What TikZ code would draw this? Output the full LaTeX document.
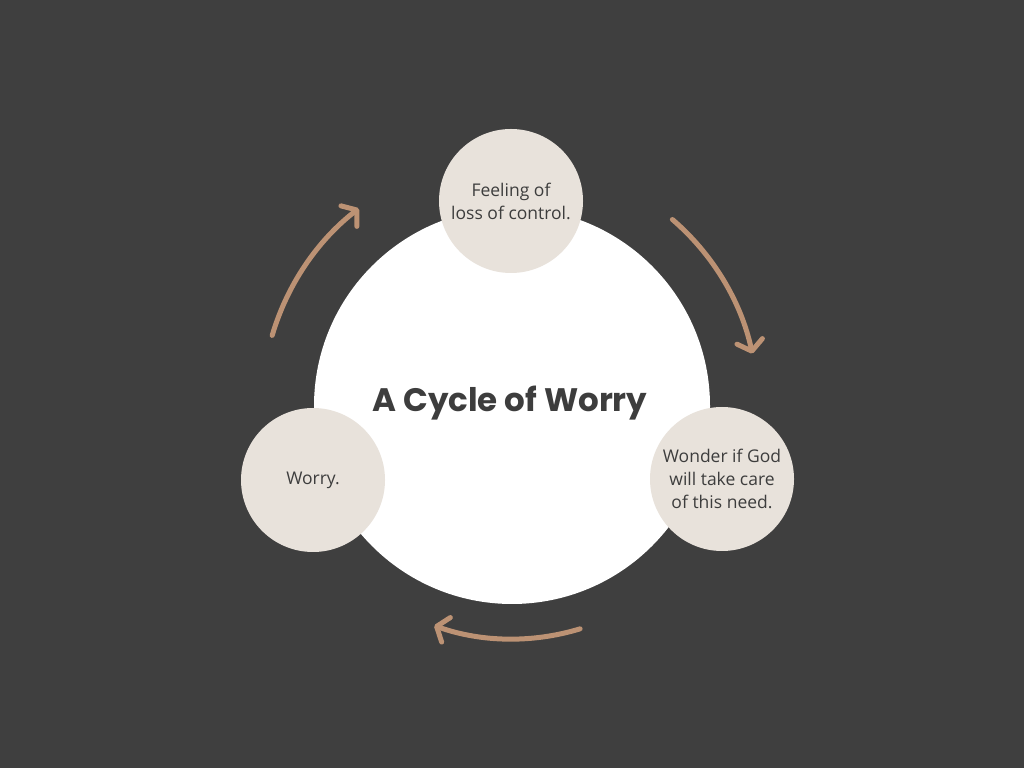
\documentclass[tikz,border=0pt]{standalone}
\usepackage{fontspec}
\setmainfont{Open Sans}
\newfontfamily\titlefont{Poppins}
\usetikzlibrary{arrows.meta}

\definecolor{bgdark}{HTML}{3F3F3F}
\definecolor{stone}{HTML}{E8E2DB}
\definecolor{inkgrey}{HTML}{3D3D3D}
\definecolor{tan}{HTML}{BC9274}

\tikzset{
  bubble/.style={circle, fill=stone, minimum size=144pt, inner sep=0pt,
    align=center, text=inkgrey, font=\fontsize{17.5}{23}\selectfont},
  cyc/.style={draw=tan, line width=5pt, line cap=round, line join=round,
    -{Straight Barb[length=10pt, width=26pt, line cap=round, line join=round]}}
}

\begin{document}
\begin{tikzpicture}[x=1pt, y=1pt]

\fill[bgdark] (0,0) rectangle (1024,768);
\useasboundingbox (0,0) rectangle (1024,768);

% --- CENTRE ---
\node[circle, fill=white, minimum size=396pt, inner sep=0pt] (hub) at (512,362) {};
\node[text=inkgrey, font=\titlefont\bfseries\fontsize{32.5}{38}\selectfont] (title) at (510,365) {A Cycle of Worry};

% --- STAGES ---
\node[bubble] (loss) at (511,567) {Feeling of\\loss of control.};
\node[bubble] (wonder) at (722,289) {Wonder if God\\will take care\\of this need.};
\node[bubble] (worry) at (313,288) {Worry.};

% --- ARROWS ---
\coordinate (a1) at ([shift={(163.6:250)}]hub.center);
\coordinate (a2) at ([shift={(49.3:246)}]hub.center);
\coordinate (a3) at ([shift={(-73:233)}]hub.center);

\draw[cyc] (a1) arc[start angle=163.6, end angle=127.8, radius=250];
\draw[cyc] (a2) arc[start angle=49.3, end angle=12.3, radius=246];
\draw[cyc] (a3) arc[start angle=-73, end angle=-109.5, radius=233];

\end{tikzpicture}
\end{document}
